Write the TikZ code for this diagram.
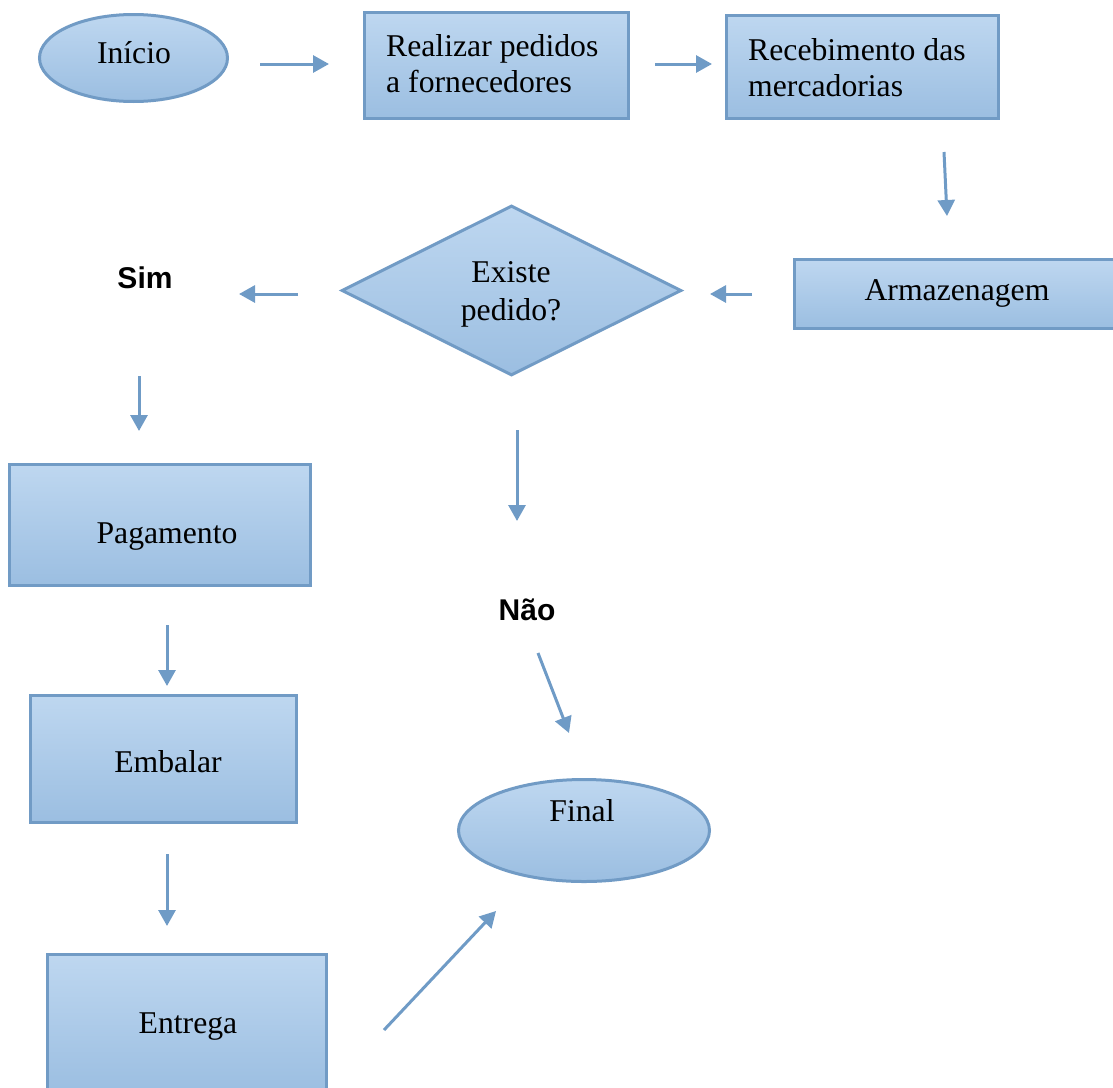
\documentclass[tikz,border=0pt]{standalone}
\usepackage{fontspec}
\setmainfont{Liberation Serif}
\newfontfamily\labelfont{Liberation Sans}
\usetikzlibrary{shapes.geometric,arrows.meta}
\definecolor{bordc}{RGB}{113,155,197}
\definecolor{arrc}{RGB}{111,155,198}
\definecolor{topc}{RGB}{190,215,240}
\definecolor{botc}{RGB}{155,190,225}
\begin{document}
\begin{tikzpicture}[x=1pt,y=-1pt,
  shp/.style={draw=bordc, line width=3pt, top color=topc, bottom color=botc, inner sep=0pt},
  box/.style={shp, rectangle},
  ell/.style={shp, ellipse},
  dia/.style={shp, diamond},
  txt/.style={font=\fontsize{31.7}{36.5}\selectfont, inner sep=0pt, anchor=base},
  ltxt/.style={txt, anchor=base west},
  lbl/.style={font=\labelfont\bfseries\fontsize{30}{36}\selectfont, inner sep=0pt},
  arr/.style={draw=arrc, line width=3pt, -{Triangle[length=16pt,width=17pt]}}
]
\useasboundingbox (0,0) rectangle (1113,1087);
\clip (0,0) rectangle (1113,1087);

% shapes
\node[ell, minimum width=188, minimum height=87] (inicio) at (133.5,58) {};
\node[box, minimum width=264, minimum height=106] (pedidos) at (496.5,65.5) {};
\node[box, minimum width=272, minimum height=103] (receb) at (862.5,67) {};
\node[box, minimum width=325, minimum height=69] (armaz) at (957,294) {};
\node[dia, minimum width=340, minimum height=170] (existe) at (511.5,290.5) {};
\node[box, minimum width=301, minimum height=121] (pagam) at (160,525) {};
\node[box, minimum width=266, minimum height=127] (embalar) at (163.5,759) {};
\node[box, minimum width=279, minimum height=139] (entrega) at (187,1024) {};
\node[ell, minimum width=251, minimum height=102] (final) at (584,830.5) {};

% texts
\node[txt] (inicioT) at (134,63) {Início};
\node[ltxt] (pedidosT1) at (386,56) {Realizar pedidos};
\node[ltxt] (pedidosT2) at (386,92) {a fornecedores};
\node[ltxt] (recebT1) at (748,60) {Recebimento das};
\node[ltxt] (recebT2) at (748,96) {mercadorias};
\node[txt] (armazT) at (957,300) {Armazenagem};
\node[txt] (existeT1) at (511,282) {Existe};
\node[txt] (existeT2) at (511,320) {pedido?};
\node[txt] (pagamT) at (167,543) {Pagamento};
\node[txt] (embalarT) at (168,772) {Embalar};
\node[txt] (entregaT) at (188,1033) {Entrega};
\node[txt] (finalT) at (582,821) {Final};

\node[lbl] (sim) at (145,278) {Sim};
\node[lbl] (nao) at (527,610) {Não};

% connector end points
\coordinate (a1s) at (260,64);  \coordinate (a1e) at (329,64);
\coordinate (a2s) at (655,64);  \coordinate (a2e) at (712,64);
\coordinate (a3s) at (944,152); \coordinate (a3e) at (947,216);
\coordinate (a4s) at (752,294); \coordinate (a4e) at (710,294);
\coordinate (a5s) at (298,294); \coordinate (a5e) at (239,294);
\coordinate (a6s) at (139,376); \coordinate (a6e) at (139,431);
\coordinate (a7s) at (167,625); \coordinate (a7e) at (167,686);
\coordinate (a8s) at (167,854); \coordinate (a8e) at (167,926);
\coordinate (a9s) at (384,1030); \coordinate (a9e) at (496,911);
\coordinate (a10s) at (517,430); \coordinate (a10e) at (517,521);
\coordinate (a11s) at (538,653); \coordinate (a11e) at (569,733);

\draw[arr] (a1s) -- (a1e);
\draw[arr] (a2s) -- (a2e);
\draw[arr] (a3s) -- (a3e);
\draw[arr] (a4s) -- (a4e);
\draw[arr] (a5s) -- (a5e);
\draw[arr] (a6s) -- (a6e);
\draw[arr] (a7s) -- (a7e);
\draw[arr] (a8s) -- (a8e);
\draw[arr] (a9s) -- (a9e);
\draw[arr] (a10s) -- (a10e);
\draw[arr] (a11s) -- (a11e);
\end{tikzpicture}
\end{document}
